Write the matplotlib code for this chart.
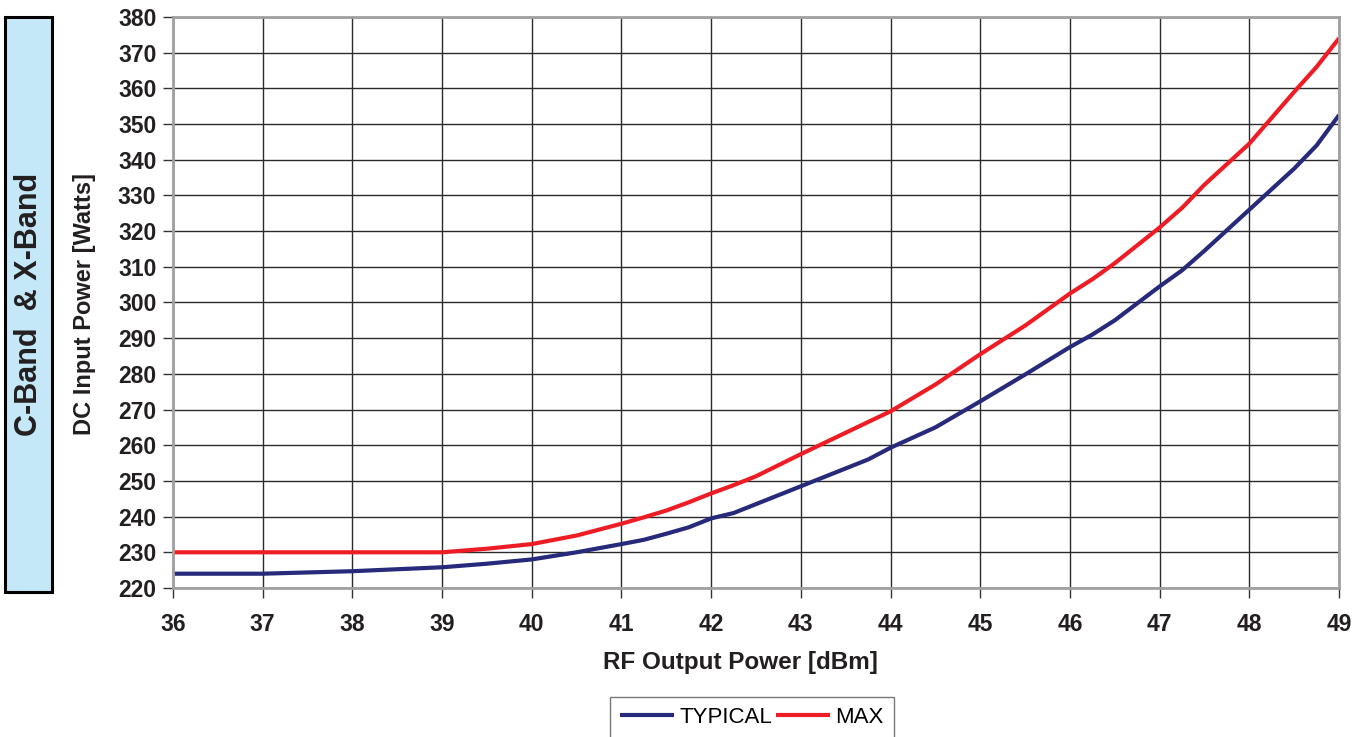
import matplotlib.pyplot as plt
from matplotlib.patches import Rectangle

plt.rcParams['font.family'] = ['Liberation Sans', 'DejaVu Sans']

# RF output power [dBm]
rf_power = [36, 37, 38, 39, 39.5, 40, 40.5, 41, 41.25, 41.5, 41.75, 42, 42.25, 42.5,
            43, 43.5, 43.75, 44, 44.5, 45, 45.5, 46, 46.25, 46.5, 47, 47.25, 47.5,
            48, 48.5, 48.75, 49]
# DC input power [W]
typical = [224, 224, 224.7, 225.8, 226.8, 228, 230, 232.3, 233.5, 235.2, 237, 239.5, 241, 243.5,
           248.5, 253.5, 256, 259.3, 265, 272.3, 279.8, 287.5, 291, 295, 304.5, 309, 314.5,
           326, 337.5, 344, 352.5]
maximum = [230, 230, 230, 230, 231, 232.3, 234.7, 238, 239.8, 241.7, 244, 246.5, 248.8, 251.3,
           257.5, 263.5, 266.5, 269.5, 277, 285.5, 293.5, 302.5, 306.5, 311, 321, 326.5, 333,
           344.5, 359, 366, 374]

x_ticks = list(range(36, 50))
y_ticks = list(range(220, 381, 10))

fig = plt.figure(figsize=(13.72, 7.37), dpi=100)
ax = fig.add_axes([0.1261, 0.2022, 0.8499, 0.7749])

ax.plot(rf_power, typical, color='#272A7A', lw=3.0, label='TYPICAL', solid_capstyle='butt')
ax.plot(rf_power, maximum, color='#EE1D25', lw=3.0, label='MAX', solid_capstyle='butt')

ax.set_xlim(36, 49)
ax.set_ylim(220, 380)
ax.set_xticks(x_ticks)
ax.set_yticks(y_ticks)
ax.grid(True, color='#2A2A2A', lw=1.0)
ax.set_axisbelow(True)
for s in ax.spines.values():
    s.set_color('#A0A0A0')
    s.set_linewidth(2.0)
ax.tick_params(direction='out', length=7, width=1.0, color='#333333', pad=5)
for lbl in ax.get_xticklabels() + ax.get_yticklabels():
    lbl.set_fontsize(16.5)
    lbl.set_fontweight('bold')
    lbl.set_color('#231F20')
ax.tick_params(axis='x', pad=11)

fig.text(740 / 1372, 1 - 663 / 737, 'RF Output Power [dBm]', ha='center', va='center',
         fontsize=17.5, fontweight='bold', color='#231F20')
fig.text(85 / 1372, 1 - 304 / 737, 'DC Input Power [Watts]', ha='center', va='center',
         rotation=90, fontsize=17, fontweight='bold', color='#231F20')

# side label box
fig.patches.append(Rectangle((5 / 1372, (737 - 592) / 737), 47 / 1372, 575 / 737,
                             transform=fig.transFigure, facecolor='#C5E8F9',
                             edgecolor='black', lw=2.2))
fig.text(29 / 1372, 1 - 304 / 737, 'C-Band  & X-Band', ha='center', va='center',
         rotation=90, fontsize=22, fontweight='bold', color='#231F20')

leg = fig.legend(loc='upper center', bbox_to_anchor=(752 / 1372, 1 - 697 / 737), ncol=2,
                 fontsize=16, frameon=True, fancybox=False, handlelength=2.4,
                 columnspacing=0.2, handletextpad=0.25, borderpad=0.45, borderaxespad=0)
leg.get_frame().set_edgecolor('#555555')
leg.get_frame().set_linewidth(1.0)

fig.savefig('out.png', dpi=100)
